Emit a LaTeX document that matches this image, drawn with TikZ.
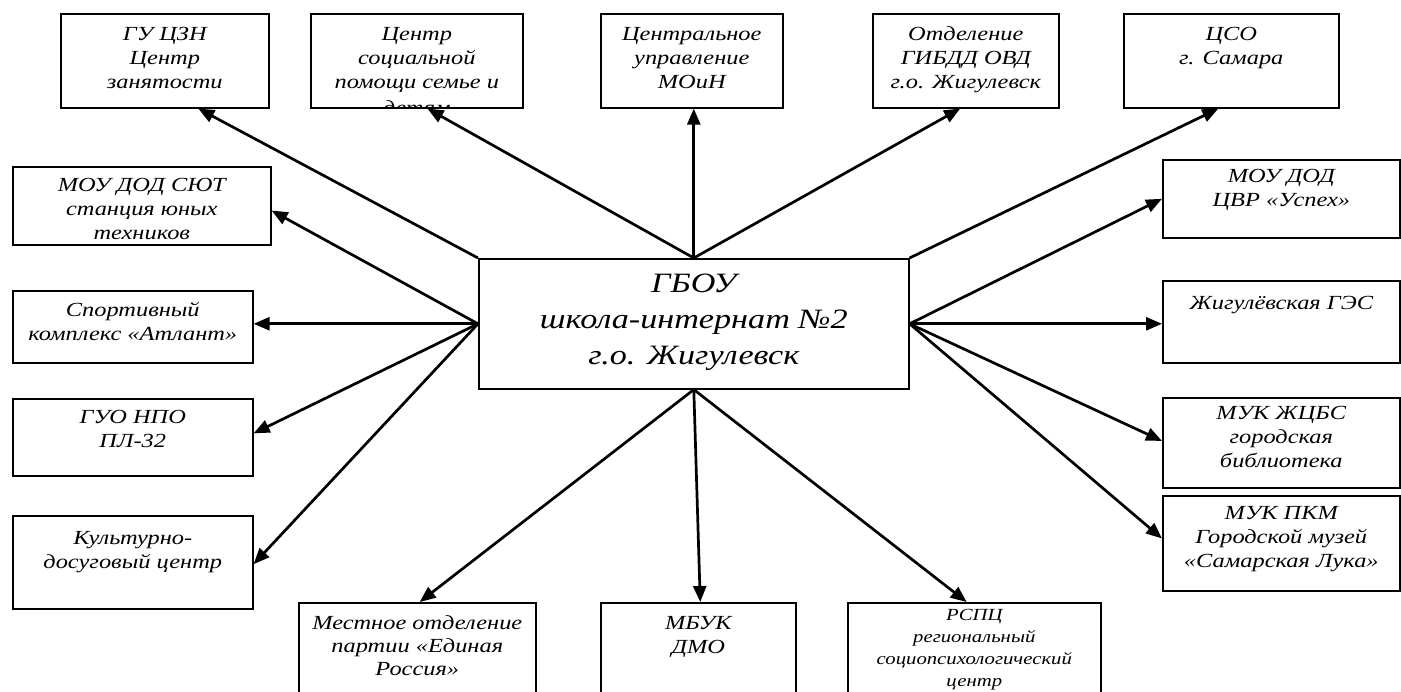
\documentclass[tikz,border=0pt]{standalone}
\usepackage{fontspec}
\setmainfont{Liberation Serif}[FakeStretch=1.22]
\usetikzlibrary{arrows.meta,calc}
\begin{document}
\begin{tikzpicture}[x=1pt,y=-1pt,
  box/.style={draw, line width=1.6pt, inner sep=0pt, anchor=north west},
  txt/.style={inner sep=0pt, anchor=base, font=\fontsize{20}{24}\selectfont\itshape},
  conn/.style={line width=2.7pt, -{Triangle[length=16pt,width=13pt]}}]
\clip (0,0) rectangle (1401,692);
\fill[white] (0,0) rectangle (1401,692);
% central node
\node[box, minimum width=430pt, minimum height=130pt] (c) at (478,258) {};
\node[txt, font=\fontsize{28}{36}\selectfont\itshape] (ct) at ([yshift=-35pt]c.north) {\parbox[t]{420pt}{\centering ГБОУ\\школа-интернат №2\\г.о. Жигулевск}};
% top row
\node[box, minimum width=208pt, minimum height=94pt] (b1) at (60,13) {};
\node[box, minimum width=212pt, minimum height=94pt] (b2) at (310,13) {};
\node[box, minimum width=182pt, minimum height=94pt] (b3) at (600,13) {};
\node[box, minimum width=186pt, minimum height=94pt] (b4) at (872,13) {};
\node[box, minimum width=215pt, minimum height=94pt] (b5) at (1123,13) {};
\node[txt] (t1) at ([yshift=-28pt]b1.north) {\parbox[t]{200pt}{\centering ГУ ЦЗН\\Центр\\занятости}};
\begin{scope}
\clip ([shift={(1pt,1pt)}]b2.south west) rectangle ([shift={(-1pt,-1pt)}]b2.north east);
\node[txt] (t2) at ([yshift=-28pt]b2.north) {\parbox[t]{210pt}{\centering Центр\\социальной\\помощи семье и\\[2pt]детям}};
\end{scope}
\node[txt] (t3) at ([yshift=-28pt]b3.north) {\parbox[t]{180pt}{\centering Центральное\\управление\\МОиН}};
\node[txt] (t4) at ([yshift=-28pt]b4.north) {\parbox[t]{184pt}{\centering Отделение\\ГИБДД ОВД\\г.о. Жигулевск}};
\node[txt] (t5) at ([yshift=-28pt]b5.north) {\parbox[t]{210pt}{\centering ЦСО\\г. Самара}};
% left column
\node[box, minimum width=258pt, minimum height=78pt] (b6) at (12,166) {};
\node[box, minimum width=240pt, minimum height=72pt] (b7) at (12,290) {};
\node[box, minimum width=240pt, minimum height=77pt] (b8) at (12,398) {};
\node[box, minimum width=240pt, minimum height=93pt] (b9) at (12,515) {};
\node[txt] (t6) at ([yshift=-26pt]b6.north) {\parbox[t]{250pt}{\centering МОУ ДОД СЮТ\\станция юных\\техников}};
\node[txt] (t7) at ([yshift=-27pt]b7.north) {\parbox[t]{238pt}{\centering Спортивный\\комплекс «Атлант»}};
\node[txt] (t8) at ([yshift=-26pt]b8.north) {\parbox[t]{238pt}{\centering ГУО НПО\\ПЛ-32}};
\node[txt] (t9) at ([yshift=-29pt]b9.north) {\parbox[t]{238pt}{\centering Культурно-\\досуговый центр}};
% right column
\node[box, minimum width=237pt, minimum height=78pt] (b10) at (1162,159) {};
\node[box, minimum width=237pt, minimum height=82pt] (b11) at (1162,280) {};
\node[box, minimum width=237pt, minimum height=90pt] (b12) at (1162,397) {};
\node[box, minimum width=237pt, minimum height=95pt] (b13) at (1162,495) {};
\node[txt] (t10) at ([yshift=-24pt]b10.north) {\parbox[t]{235pt}{\centering МОУ ДОД\\ЦВР «Успех»}};
\node[txt] (t11) at ([yshift=-30pt]b11.north) {\parbox[t]{235pt}{\centering Жигулёвская ГЭС}};
\node[txt] (t12) at ([yshift=-23pt]b12.north) {\parbox[t]{235pt}{\centering МУК ЖЦБС\\городская\\библиотека}};
\node[txt] (t13) at ([yshift=-24pt]b13.north) {\parbox[t]{235pt}{\centering МУК ПКМ\\Городской музей\\«Самарская Лука»}};
% bottom row
\node[box, minimum width=237pt, minimum height=110pt] (b14) at (298,602) {};
\node[box, minimum width=195pt, minimum height=110pt] (b15) at (600,602) {};
\node[box, minimum width=253pt, minimum height=110pt] (b16) at (847,602) {};
\node[txt, font=\fontsize{20}{23}\selectfont\itshape] (t14) at ([yshift=-27pt]b14.north) {\parbox[t]{235pt}{\centering Местное отделение\\партии «Единая\\Россия»}};
\node[txt] (t15) at ([yshift=-27pt]b15.north) {\parbox[t]{190pt}{\centering МБУК\\ДМО}};
\node[txt, font=\fontsize{17}{22}\selectfont\itshape] (t16) at ([yshift=-18pt]b16.north) {\parbox[t]{250pt}{\centering РСПЦ\\региональный\\социопсихологический\\центр}};
% connectors
\draw[conn] (c.north west) -- ($(b1.south west)!0.66!(b1.south east)$);
\draw[conn] (c.north) -- ($(b2.south west)!0.55!(b2.south east)$);
\draw[conn] (c.north) -- (c.north |- b3.south);
\draw[conn] (c.north) -- ($(b4.south west)!0.47!(b4.south east)$);
\draw[conn] (c.north east) -- ($(b5.south west)!0.44!(b5.south east)$);
\draw[conn] (c.west) -- ($(b6.north east)!0.56!(b6.south east)$);
\draw[conn] (c.west) -- (c.west -| b7.east);
\draw[conn] (c.west) -- ($(b8.north east)!0.45!(b8.south east)$);
\draw[conn] (c.west) -- ($(b9.north east)!0.52!(b9.south east)$);
\draw[conn] (c.east) -- (b10.west);
\draw[conn] (c.east) -- (c.east -| b11.west);
\draw[conn] (c.east) -- ($(b12.north west)!0.48!(b12.south west)$);
\draw[conn] (c.east) -- ($(b13.north west)!0.45!(b13.south west)$);
\draw[conn] (c.south) -- ($(b14.north west)!0.51!(b14.north east)$);
\draw[conn] (c.south) -- ($(b15.north west)!0.51!(b15.north east)$);
\draw[conn] (c.south) -- ($(b16.north west)!0.47!(b16.north east)$);
\end{tikzpicture}
\end{document}
